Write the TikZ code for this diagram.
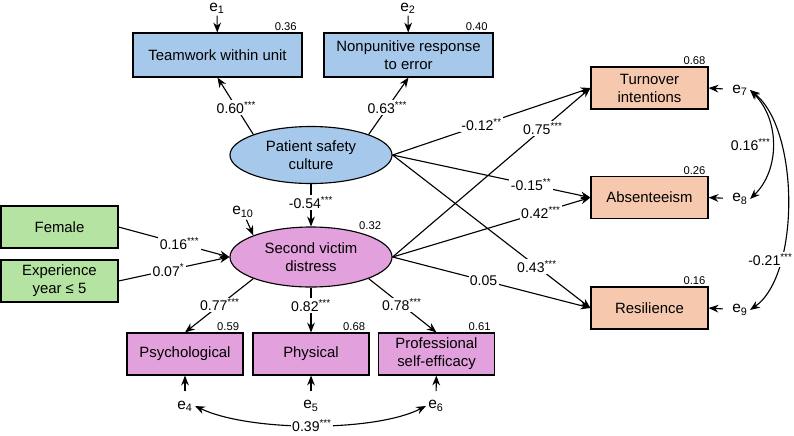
\documentclass[tikz,border=0pt]{standalone}
\usepackage{fontspec}
\setmainfont{Liberation Sans}
\usetikzlibrary{shapes.geometric, arrows.meta}

\definecolor{cultureBlue}{RGB}{166,200,234}
\definecolor{distressPink}{RGB}{226,160,220}
\definecolor{demoGreen}{RGB}{180,227,162}
\definecolor{outcomeOrange}{RGB}{246,200,174}

\begin{document}
\begin{tikzpicture}[x=0.025cm, y=-0.025cm,
                    boxStyle/.style={rectangle, draw, line width=0.8pt, align=center, minimum height=1.05cm, inner sep=1pt, font=\fontsize{10.6}{12.8}\selectfont},
                    latentStyle/.style={ellipse, draw, line width=0.8pt, align=center, minimum width=4.05cm, inner sep=1pt, font=\fontsize{10.6}{12.8}\selectfont},
                    errStyle/.style={inner sep=1.5pt, font=\fontsize{11}{12}\selectfont},
                    coefStyle/.style={fill=white, inner sep=1pt, font=\fontsize{10}{11}\selectfont},
                    rsqStyle/.style={fill=none, draw=none, inner sep=1pt, font=\fontsize{8}{9}\selectfont},
                    arrowStyle/.style={-{Stealth[length=7pt, width=5.5pt]}, line width=0.8pt},
                    covStyle/.style={{Stealth[length=7pt, width=5.5pt]}-{Stealth[length=7pt, width=5.5pt]}, line width=0.8pt}]
                    \useasboundingbox (0,0) rectangle (794,435);

                    \node[boxStyle, fill=cultureBlue, minimum width=4.225cm, minimum height=1.1cm, label={[rsqStyle, anchor=south east, xshift=-3pt]north east:0.36}](team) at (217.5,55) {Teamwork within unit};
                    \node[boxStyle, fill=cultureBlue, minimum width=4.225cm, minimum height=1.1cm, label={[rsqStyle, anchor=south east, xshift=-3pt]north east:0.40}](punit) at (408.5,55) {Nonpunitive response\\to error};
                    \node[latentStyle, fill=cultureBlue, minimum height=1.425cm](psc) at (311,155) {Patient safety\\culture};
                    \node[latentStyle, fill=distressPink, minimum height=1.5cm, label={[rsqStyle, anchor=south west, xshift=-8pt, yshift=3pt]north east:0.32}](svd) at (311,257) {Second victim\\distress};

                    \node[boxStyle, fill=demoGreen, minimum width=2.925cm](female) at (59.5,227) {Female};
                    \node[boxStyle, fill=demoGreen, minimum width=2.925cm](exper) at (59.5,281) {Experience\\year ≤ 5};

                    \node[boxStyle, fill=distressPink, minimum width=2.9cm, label={[rsqStyle, anchor=south east, xshift=-2pt]north east:0.59}](psych) at (185,354) {Psychological};
                    \node[boxStyle, fill=distressPink, minimum width=2.9cm, label={[rsqStyle, anchor=south east, xshift=-2pt]north east:0.68}](phys) at (311,354) {Physical};
                    \node[boxStyle, fill=distressPink, minimum width=2.9cm, label={[rsqStyle, anchor=south east, xshift=-2pt]north east:0.61}](prof) at (436.5,354) {Professional\\self-efficacy};

                    \node[boxStyle, fill=outcomeOrange, minimum width=2.925cm, label={[rsqStyle, anchor=south east, xshift=-1pt]north east:0.68}](turn) at (649.5,88) {Turnover\\intentions};
                    \node[boxStyle, fill=outcomeOrange, minimum width=2.925cm, label={[rsqStyle, anchor=south east, xshift=-1pt]north east:0.26}](absent) at (649.5,197.5) {Absenteeism};
                    \node[boxStyle, fill=outcomeOrange, minimum width=2.925cm, label={[rsqStyle, anchor=south east, xshift=-1pt]north east:0.16}](resil) at (649.5,308) {Resilience};

                    \node[errStyle](e1) at (217,8) {e\textsubscript{1}};
                    \node[errStyle](e2) at (408,8) {e\textsubscript{2}};
                    \node[errStyle](e4) at (185,406) {e\textsubscript{4}};
                    \node[errStyle](e5) at (311,406) {e\textsubscript{5}};
                    \node[errStyle](e6) at (436,406) {e\textsubscript{6}};
                    \node[errStyle](e7) at (740,90) {e\textsubscript{7}};
                    \node[errStyle](e8) at (740,199) {e\textsubscript{8}};
                    \node[errStyle](e9) at (740,310) {e\textsubscript{9}};
                    \node[errStyle](e10) at (243,212) {e\textsubscript{10}};

                    \draw[arrowStyle] (e1) -- (team);
                    \draw[arrowStyle] (e2) -- (punit);
                    \draw[arrowStyle, shorten <=5pt] (e4) -- (psych);
                    \draw[arrowStyle, shorten <=5pt] (e5) -- (phys);
                    \draw[arrowStyle, shorten <=5pt] (e6) -- (prof);
                    \draw[arrowStyle, shorten <=5pt] (e7) -- (turn.east);
                    \draw[arrowStyle, shorten <=5pt] (e8) -- (absent.east);
                    \draw[arrowStyle, shorten <=5pt] (e9) -- (resil.east);
                    \draw[arrowStyle] (e10) -- (svd.north west);

                    \draw[arrowStyle] (psc.north west) -- node[coefStyle, pos=0.47] {0.60\textsuperscript{***}} (team.south);
                    \draw[arrowStyle] (psc.north east) -- node[coefStyle, pos=0.47] {0.63\textsuperscript{***}} (punit.south);
                    \draw[arrowStyle] (psc.south) -- node[coefStyle, pos=0.43] {-0.54\textsuperscript{***}} (svd.north);
                    \draw[arrowStyle] (female.east) -- node[coefStyle, pos=0.55] {0.16\textsuperscript{***}} (svd.west);
                    \draw[arrowStyle] (exper.east) -- node[coefStyle, pos=0.45] {0.07\textsuperscript{*}} (svd.west);
                    \draw[arrowStyle] (svd.south west) -- node[coefStyle, pos=0.49] {0.77\textsuperscript{***}} (psych.north);
                    \draw[arrowStyle] (svd.south) -- node[coefStyle, pos=0.4] {0.82\textsuperscript{***}} (phys.north);
                    \draw[arrowStyle] (svd.south east) -- node[coefStyle, pos=0.49] {0.78\textsuperscript{***}} (prof.north);

                    \draw[arrowStyle] (psc.east) -- node[coefStyle, pos=0.45] {-0.12\textsuperscript{**}} (turn.west);
                    \draw[arrowStyle] (psc.east) -- node[coefStyle, pos=0.7] {-0.15\textsuperscript{**}} (absent.west);
                    \draw[arrowStyle] (psc.east) -- node[coefStyle, pos=0.73] {0.43\textsuperscript{***}} (resil.west);
                    \draw[arrowStyle] (svd.east) -- node[coefStyle, pos=0.76] {0.75\textsuperscript{***}} (turn.west);
                    \draw[arrowStyle] (svd.east) -- node[coefStyle, pos=0.75] {0.42\textsuperscript{***}} (absent.west);
                    \draw[arrowStyle] (svd.east) -- node[coefStyle, pos=0.46] {0.05} (resil.west);

                    \draw[covStyle] (e7.east) .. controls (780,120) and (780,170) .. node[coefStyle, fill=none, anchor=east, pos=0.5] {0.16\textsuperscript{***}} (e8.east);
                    \draw[covStyle] (e7.east) .. controls (800,130) and (800,275) .. node[coefStyle, pos=0.72, xshift=-7pt] {-0.21\textsuperscript{***}} (e9.east);
                    \draw[covStyle] (e4.east) .. controls (250,432) and (375,432) .. node[coefStyle] {0.39\textsuperscript{***}} (e6.west);
                \end{tikzpicture}
\end{document}
